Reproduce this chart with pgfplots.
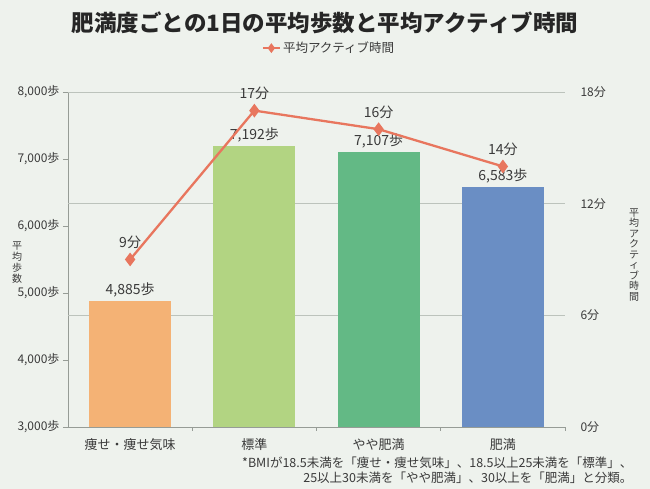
\documentclass[border=0pt]{standalone}
\usepackage{fontspec}
\setmainfont{Noto Sans CJK JP}
\usepackage{pgfplots}
\pgfplotsset{compat=1.18}
\definecolor{bgc}{HTML}{EEF2ED}
\definecolor{c1}{HTML}{F4B275}
\definecolor{c2}{HTML}{B2D482}
\definecolor{c3}{HTML}{63B985}
\definecolor{c4}{HTML}{6A8EC4}
\definecolor{linec}{HTML}{E8765E}
\definecolor{gridc}{HTML}{BCC3BC}
\definecolor{txt}{HTML}{3A3A3A}
\begin{document}
\begin{tikzpicture}[x=1bp,y=1bp]
\fill[bgc] (0,0) rectangle (650,489);
\node[font=\fontsize{22.5bp}{26bp}\selectfont\bfseries, text=black!85] at (325,466) {肥満度ごとの1日の平均歩数と平均アクティブ時間};
\begin{axis}[at={(68bp,62bp)}, anchor=south west, scale only axis,
  width=497bp, height=335bp,
  xmin=-0.5, xmax=3.5, ymin=3000, ymax=8000,
  axis x line*=bottom, axis y line*=left,
  axis line style={gridc!80!black, line width=0.8bp},
  ybar, bar width=0.66, bar shift=0pt,
  xtick={0,1,2,3},
  xticklabels={痩せ・痩せ気味, 標準, やや肥満, 肥満},
  major x tick style={draw=none},
  minor xtick={0.5,1.5,2.5,3.5},
  minor tick length=4bp,
  tick align=outside,
  ytick={3000,4000,5000,6000,7000,8000},
  major tick length=5bp,
  tick style={gridc!80!black, line width=0.8bp},
  /pgf/number format/.cd, 1000 sep={,}, assume math mode=true, /pgfplots/.cd,
  yticklabel={\pgfmathprintnumber{\tick}歩},
  ticklabel style={font=\fontsize{12bp}{14bp}\selectfont, text=txt},
  xticklabel style={font=\fontsize{13bp}{15bp}\selectfont, yshift=-3bp},
  extra y ticks={4666.667,6333.333,8000},
  extra y tick labels={},
  extra y tick style={grid=major, major tick length=0pt, major grid style={gridc, line width=0.9bp}},
  nodes near coords={\pgfmathprintnumber{\pgfplotspointmeta}歩},
  every node near coord/.append style={font=\fontsize{14bp}{16bp}\selectfont, text=txt},
  clip=false,
]
\addplot[draw=none, fill=c1] coordinates {(0,4885)};
\addplot[draw=none, fill=c2] coordinates {(1,7192)};
\addplot[draw=none, fill=c3] coordinates {(2,7107)};
\addplot[draw=none, fill=c4] coordinates {(3,6583)};
\end{axis}
\begin{axis}[at={(68bp,62bp)}, anchor=south west, scale only axis,
  width=497bp, height=335bp,
  xmin=-0.5, xmax=3.5, ymin=0, ymax=18,
  hide x axis,
  axis y line*=right, y axis line style={draw=none},
  ytick={0,6,12,18}, major tick length=0pt,
  /pgf/number format/assume math mode=true,
  yticklabel={\pgfmathprintnumber{\tick}分},
  yticklabel style={font=\fontsize{12bp}{14bp}\selectfont, text=txt, xshift=12bp},
  legend style={at={(0.525,1.131)}, anchor=center, draw=none, fill=none,
    font=\fontsize{12.5bp}{14bp}\selectfont, text=txt},
  legend cell align=left,
  legend image post style={mark size=3bp},
  clip=false,
]
\addplot[linec, line width=2.3bp, mark=diamond*, mark size=5bp,
  mark options={fill=linec, draw=linec},
  nodes near coords={\pgfmathprintnumber{\pgfplotspointmeta}分},
  every node near coord/.append style={font=\fontsize{14bp}{16bp}\selectfont, text=txt, yshift=6bp}]
  coordinates {(0,9) (1,17) (2,16) (3,14)};
\addlegendentry{平均アクティブ時間}
\end{axis}
\node[font=\fontsize{10bp}{11bp}\selectfont, text=txt, align=center] at (17,226) {平\\均\\歩\\数};
\node[font=\fontsize{10bp}{10.5bp}\selectfont, text=txt, align=center] at (634,234) {平\\均\\ア\\ク\\テ\\ィ\\ブ\\時\\間};
\node[font=\fontsize{12.5bp}{15bp}\selectfont, text=txt, align=right, anchor=north east] at (636,36) {*BMIが18.5未満を「痩せ・痩せ気味」、18.5以上25未満を「標準」、\\25以上30未満を「やや肥満」、30以上を「肥満」と分類。};
\end{tikzpicture}
\end{document}
